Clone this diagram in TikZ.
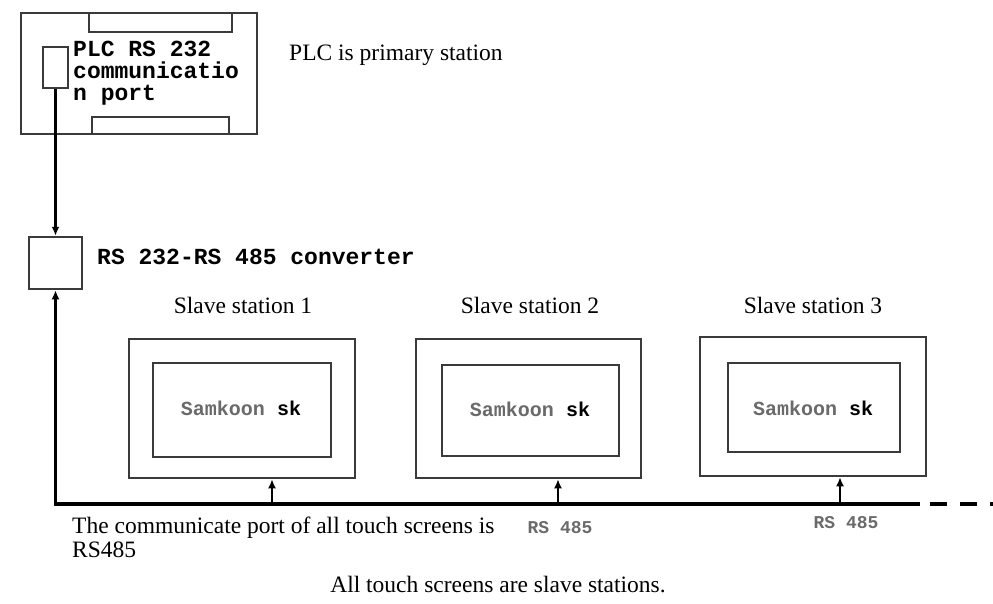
\documentclass[tikz,border=0pt]{standalone}
\usepackage{fontspec}
\setmainfont{Liberation Serif}
\newfontfamily\monofam{Liberation Mono}
\usetikzlibrary{arrows.meta}
\definecolor{boxline}{HTML}{3A3A3A}
\definecolor{samgray}{HTML}{6A6A6A}
\tikzset{
  boxnode/.style={draw=boxline, line width=2.5pt, inner sep=0pt, fill=white},
  conn/.style={draw=black, line width=2.5pt, -{Latex[length=9pt,width=8pt]}},
  busline/.style={draw=black, line width=3.5pt},
  seriftext/.style={font=\fontsize{23.5}{24}\selectfont, inner sep=0pt},
  monotext/.style={font=\monofam\bfseries\fontsize{23}{22}\selectfont, inner sep=0pt},
  samtext/.style={font=\monofam\bfseries\fontsize{20}{22}\selectfont, inner sep=0pt},
  rstext/.style={font=\monofam\bfseries\fontsize{18}{20}\selectfont, text=samgray, inner sep=0pt}
}
\begin{document}
\begin{tikzpicture}[x=1pt,y=-1pt]
\useasboundingbox (0,0) rectangle (993,603);
% PLC
\node[boxnode, minimum width=236pt, minimum height=121pt] (plc) at (139,73.5) {};
\node[boxnode, minimum width=143pt, minimum height=19pt] (tabtop) at (160.5,22.5) {};
\node[boxnode, minimum width=137pt, minimum height=17pt] (tabbot) at (160.5,125.5) {};
\node[boxnode, minimum width=25pt, minimum height=41pt] (port) at (55.5,67.5) {};
\node[monotext, anchor=north west, align=left] (plctext) at (73,41) {PLC RS 232\\communicatio\\n port};
\node[seriftext, anchor=west] (primary) at (289,55) {PLC is primary station};
% converter
\node[boxnode, minimum width=53pt, minimum height=52pt] (conv) at (55.5,263) {};
\node[monotext, anchor=west] (convtext) at (97,257) {RS 232-RS 485 converter};
% slaves
\node[boxnode, minimum width=226pt, minimum height=139pt] (s1) at (242,408.5) {};
\node[boxnode, minimum width=178pt, minimum height=94pt] (i1) at (242,410) {};
\node[boxnode, minimum width=225pt, minimum height=139pt] (s2) at (528.5,408.5) {};
\node[boxnode, minimum width=177pt, minimum height=91pt] (i2) at (530.5,410.5) {};
\node[boxnode, minimum width=226pt, minimum height=139pt] (s3) at (813,406.5) {};
\node[boxnode, minimum width=172pt, minimum height=89pt] (i3) at (814,407.5) {};
\node[samtext] (sam1) at (241,408) {\textcolor{samgray}{Samkoon} sk};
\node[samtext] (sam2) at (530,409) {\textcolor{samgray}{Samkoon} sk};
\node[samtext] (sam3) at (813,408) {\textcolor{samgray}{Samkoon} sk};
\node[seriftext] (l1) at (243,305) {Slave station 1};
\node[seriftext] (l2) at (530,305) {Slave station 2};
\node[seriftext] (l3) at (813,305) {Slave station 3};
% bus
\coordinate (busL) at (55.5,504);
\coordinate (busR) at (920,504);
\coordinate (busEnd) at (993,504);
\coordinate (b1) at (272,504);
\coordinate (b2) at (558,504);
\coordinate (b3) at (840,504);
\draw[busline] ([xshift=-1.75pt]busL) -- (busR);
\draw[busline, dash pattern=on 17pt off 13pt] ([xshift=10pt]busR) -- (busEnd);
\draw[conn] (port.south) -- (conv.north);
\draw[conn] ([yshift=1.5pt]busL) -- (conv.south);
\draw[conn] (b1) -- (b1 |- s1.south);
\draw[conn] (b2) -- (b2 |- s2.south);
\draw[conn] (b3) -- (b3 |- s3.south);
% bottom texts
\node[seriftext, anchor=west] (comm) at (72,528) {The communicate port of all touch screens is};
\node[seriftext, anchor=west] (rs485) at (72,550) {RS485};
\node[rstext] (rsA) at (560,528) {RS 485};
\node[rstext] (rsB) at (846,523) {RS 485};
\node[seriftext] (allts) at (498,585) {All touch screens are slave stations.};
\end{tikzpicture}
\end{document}
